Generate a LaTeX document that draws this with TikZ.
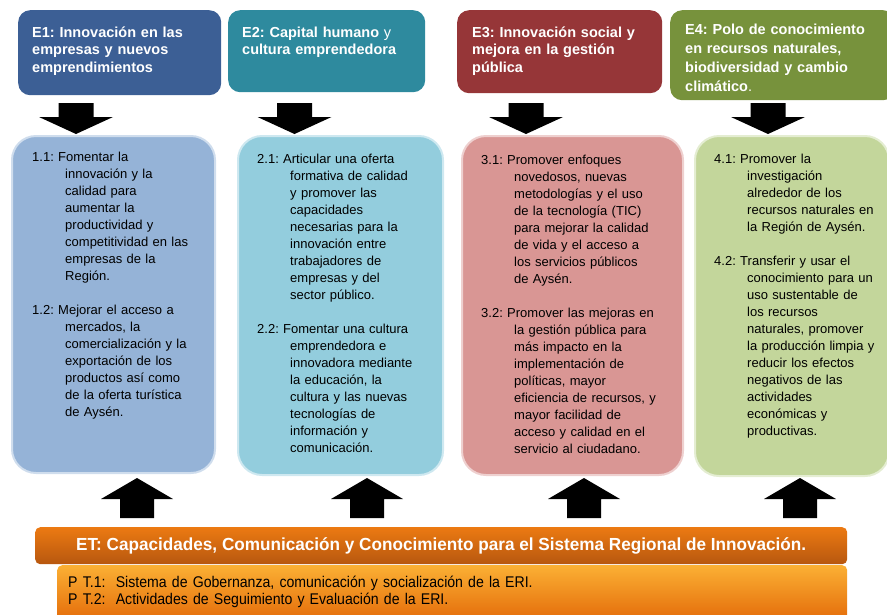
\documentclass[tikz,border=0pt]{standalone}
\usepackage{fontspec}
\setmainfont{Liberation Sans}
\newfontfamily\etfont{Liberation Sans}[FakeStretch=0.98]
\newfontfamily\ptfont{Liberation Sans}[FakeStretch=0.91]
\usetikzlibrary{positioning,calc}
\frenchspacing

\definecolor{eonecol}{HTML}{3C5F95}
\definecolor{etwocol}{HTML}{2E8A9E}
\definecolor{ethreecol}{HTML}{963638}
\definecolor{efourcol}{HTML}{77923C}
\definecolor{sonecol}{HTML}{95B3D7}
\definecolor{stwocol}{HTML}{93CDDD}
\definecolor{sthreecol}{HTML}{D99694}
\definecolor{sfourcol}{HTML}{C3D69B}
\definecolor{ettop}{HTML}{EC7A12}
\definecolor{etmid}{HTML}{9C480C}
\definecolor{etbot}{HTML}{B7570F}
\definecolor{pttop}{HTML}{FBB034}
\definecolor{ptmid}{HTML}{E46C0A}

\newcommand{\obj}[2]{\hangindent=33pt\hangafter=1 #1 #2\par}

\begin{document}
\begin{tikzpicture}[x=1pt, y=-1pt,
    eje/.style={rectangle, rounded corners=12pt, anchor=north west, inner sep=0pt},
    linea/.style={rectangle, rounded corners=24pt, anchor=north west, inner sep=0pt, line width=2pt},
    ejetext/.style={anchor=base west, inner sep=0pt, text=white, text width=200pt, align=left,
        font=\fontsize{14.5}{17.5}\selectfont\bfseries},
    lineatext/.style={anchor=base west, inner sep=0pt, text width=200pt, align=left,
        font=\fontsize{13}{17}\selectfont},
    bigarrow/.style n args={3}{fill=black, to path={let \p1=(\tikztostart), \p2=(\tikztotarget), \n1={sign(\y2-\y1)} in
        ({\x1-#1},{\y1}) -- ({\x1+#1},{\y1}) -- ({\x1+#1},{\y2-(\n1)*#3}) -- ({\x1+#2},{\y2-(\n1)*#3})
        -- ({\x2},{\y2}) -- ({\x1-#2},{\y2-(\n1)*#3}) -- ({\x1-#1},{\y2-(\n1)*#3}) -- cycle}},
    arrdown/.style={bigarrow={17.5pt}{37pt}{17pt}},
    arrup/.style={bigarrow={17pt}{36pt}{21pt}}
]
    \useasboundingbox (0,0) rectangle (887,614);

    % ejes estrategicos
    \node[eje, fill=eonecol, minimum width=203pt, minimum height=85pt] (e1) at (18,10) {};
    \node[eje, fill=etwocol, minimum width=197pt, minimum height=82pt] (e2) at (228,10) {};
    \node[eje, fill=ethreecol, minimum width=205pt, minimum height=83pt] (e3) at (457,10) {};
    \node[eje, fill=efourcol, minimum width=225pt, minimum height=90pt] (e4) at (670,10) {};

    \node[ejetext] (e1t) at (32,37) {E1: Innovación en las\\ empresas y nuevos\\ emprendimientos};
    \node[ejetext] (e2t) at (242,37) {E2: Capital humano {\mdseries y}\\ cultura emprendedora};
    \node[ejetext] (e3t) at (472,37) {E3: Innovación social y\\ mejora en la gestión\\ pública};
    \node[ejetext, font=\fontsize{14.5}{19}\selectfont\bfseries] (e4t) at (685,34.5)
        {E4: Polo de conocimiento\\ en recursos naturales,\\ biodiversidad y cambio\\ climático{\mdseries .}};

    % lineas de accion
    \node[linea, fill=sonecol, draw=sonecol!45!white, minimum width=203pt, minimum height=337pt] (s1) at (11,135) {};
    \node[linea, fill=stwocol, draw=stwocol!45!white, minimum width=205pt, minimum height=339pt] (s2) at (237,135) {};
    \node[linea, fill=sthreecol, draw=sthreecol!45!white, minimum width=221pt, minimum height=339pt] (s3) at (461,135) {};
    \node[linea, fill=sfourcol, draw=sfourcol!45!white, minimum width=194pt, minimum height=340pt] (s4) at (694,135) {};

    \node[lineatext] (s1t) at (32,161) {%
        \obj{1.1:}{Fomentar la\newline innovación y la\newline calidad para\newline aumentar la\newline productividad y\newline
            competitividad en las\newline empresas de la\newline Región.}\vspace{17.5pt}%
        \obj{1.2:}{Mejorar el acceso a\newline mercados, la\newline comercialización y la\newline exportación de los\newline
            productos así como\newline de la oferta turística\newline de Aysén.}};
    \node[lineatext] (s2t) at (257,163) {%
        \obj{2.1:}{Articular una oferta\newline formativa de calidad\newline y promover las\newline capacidades\newline
            necesarias para la\newline innovación entre\newline trabajadores de\newline empresas y del\newline sector público.}\vspace{17pt}%
        \obj{2.2:}{Fomentar una cultura\newline emprendedora e\newline innovadora mediante\newline la educación, la\newline
            cultura y las nuevas\newline tecnologías de\newline información y\newline comunicación.}};
    \node[lineatext] (s3t) at (481,164) {%
        \obj{3.1:}{Promover enfoques\newline novedosos, nuevas\newline metodologías y el uso\newline de la tecnología (TIC)\newline
            para mejorar la calidad\newline de vida y el acceso a\newline los servicios públicos\newline de Aysén.}\vspace{17pt}%
        \obj{3.2:}{Promover las mejoras en\newline la gestión pública para\newline más impacto en la\newline implementación de\newline
            políticas, mayor\newline eficiencia de recursos, y\newline mayor facilidad de\newline acceso y calidad en el\newline
            servicio al ciudadano.}};
    \node[lineatext] (s4t) at (714,163) {%
        \obj{4.1:}{Promover la\newline investigación\newline alrededor de los\newline recursos naturales en\newline
            la Región de Aysén.}\vspace{17pt}%
        \obj{4.2:}{Transferir y usar el\newline conocimiento para un\newline uso sustentable de\newline los recursos\newline
            naturales, promover\newline la producción limpia y\newline reducir los efectos\newline negativos de las\newline
            actividades\newline económicas y\newline productivas.}};

    % eje transversal
    \node[rectangle, rounded corners=5pt, anchor=north west, inner sep=0pt, minimum width=812pt, minimum height=37pt,
        top color=ettop, middle color=etmid, bottom color=etbot, text=white,
        font=\etfont\fontsize{17.5}{20}\selectfont\bfseries] (et) at (35,527)
        {ET: Capacidades, Comunicación y Conocimiento para el Sistema Regional de Innovación.};
    \node[rectangle, rounded corners=5pt, anchor=north west, inner sep=0pt, minimum width=790pt, minimum height=55pt,
        top color=pttop, middle color=ptmid, bottom color=ptmid] (pt) at (57,565) {};
    \node[anchor=base west, inner sep=0pt, text width=600pt, align=left,
        font=\ptfont\fontsize{15.5}{17}\selectfont] (ptt) at (68,587)
        {P T.1:\ \ Sistema de Gobernanza, comunicación y socialización de la ERI.\\
         P T.2:\ \ Actividades de Seguimiento y Evaluación de la ERI.};

    % flechas
    \foreach \i/\x in {1/76, 2/294.5, 3/526, 4/768} {
        \coordinate (d\i a) at (\x,103);
        \coordinate (d\i b) at (\x,134);
        \fill[arrdown] (d\i a) to (d\i b);
    }
    \foreach \i/\x in {1/137, 2/367, 3/584, 4/800} {
        \coordinate (u\i a) at (\x,518);
        \coordinate (u\i b) at (\x,478);
        \fill[arrup] (u\i a) to (u\i b);
    }
\end{tikzpicture}
\end{document}
